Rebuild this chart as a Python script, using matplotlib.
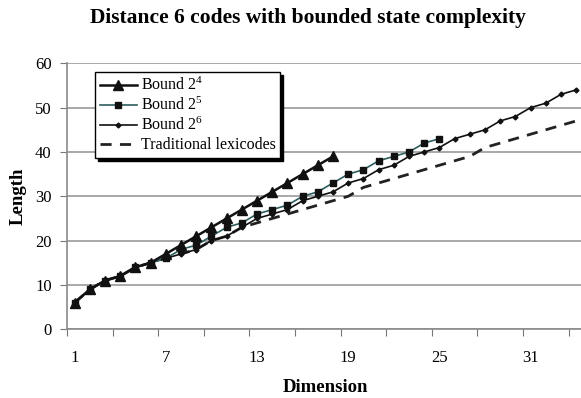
import matplotlib
matplotlib.use("Agg")
import matplotlib.pyplot as plt
import numpy as np

plt.rcParams['font.family'] = ['Liberation Serif', 'DejaVu Serif']
plt.rcParams['mathtext.fontset'] = 'custom'
plt.rcParams['mathtext.rm'] = 'Liberation Serif'
plt.rcParams['mathtext.it'] = 'Liberation Serif:italic'

# data
bound4 = [6, 9, 11, 12, 14, 15, 17, 19, 21, 23, 25, 27, 29, 31, 33, 35, 37, 39]
bound5 = [6, 9, 11, 12, 14, 15, 16, 18, 19, 21, 23, 24, 26, 27, 28, 30, 31,
          33, 35, 36, 38, 39, 40, 42, 43]
bound6 = [6, 9, 11, 12, 14, 15, 16, 17, 18, 20, 21, 23, 25, 26, 27, 29, 30,
          31, 33, 34, 36, 37, 39, 40, 41, 43, 44, 45, 47, 48, 50, 51, 53, 54]
lexi = [6, 9, 11, 12, 14, 15, 16, 17, 18, 20, 21, 23, 24, 25, 26, 27, 28,
        29, 30, 32, 33, 34, 35, 36, 37, 38, 39, 41, 42, 43, 44, 45, 46, 47]
xlabels = ['1', '7', '13', '19', '25', '31']

W, H = 581, 398
fig = plt.figure(figsize=(W / 100, H / 100), dpi=100)
left, right, top, bottom = 67, 583.8, 63.3, 329.3
ax = fig.add_axes([left / W, 1 - bottom / H, (right - left) / W, (bottom - top) / H])

ax.plot(np.arange(1, len(lexi) + 1), lexi, color='#222222', lw=2.0,
        dashes=(4, 3), label='Traditional lexicodes', zorder=2)
ax.plot(np.arange(1, len(bound6) + 1), bound6, color='#111111', lw=1.2,
        marker='D', ms=2.5, label='Bound $2^6$', zorder=3)
ax.plot(np.arange(1, len(bound5) + 1), bound5, color='#2e5d5d', lw=1.2,
        marker='s', ms=5, mfc='#111111', mec='#111111', label='Bound $2^5$', zorder=4)
ax.plot(np.arange(1, len(bound4) + 1), bound4, color='#111111', lw=1.8,
        marker='^', ms=7.5, label='Bound $2^4$', zorder=5)

ax.set_xlim(0.5, 34.5)
ax.set_ylim(0, 60)
ax.set_yticks(range(0, 61, 10))
ax.yaxis.grid(True, color='#9a9a9a', lw=1.2)
ax.set_axisbelow(True)

ax.set_xticks(np.arange(0.5, 34, 3))
ax.set_xticklabels([])
ax.set_xticks([int(s) for s in xlabels], minor=True)
ax.set_xticklabels(xlabels, minor=True)
ax.tick_params(axis='x', which='major', length=5, color='#777777', direction='out')
ax.tick_params(axis='x', which='minor', length=0, pad=15, labelsize=12)
ax.tick_params(axis='y', length=5, color='#777777', labelsize=12, pad=6)

for s in ['top', 'right']:
    ax.spines[s].set_visible(False)
for s in ['left', 'bottom']:
    ax.spines[s].set_color('#8a8a8a')
    ax.spines[s].set_linewidth(1.2)

ax.set_xlabel('Dimension', fontsize=13.5, fontweight='bold', labelpad=9)
ax.set_ylabel('Length', fontsize=13.5, fontweight='bold', labelpad=6)
fig.text(308 / W, 1 - 18 / H, 'Distance 6 codes with bounded state complexity',
         ha='center', va='center', fontsize=15.5, fontweight='bold')

handles, labels = ax.get_legend_handles_labels()
order = [3, 2, 1, 0]
leg = ax.legend([handles[i] for i in order], [labels[i] for i in order],
                loc='upper left', bbox_to_anchor=((95 - left) / (right - left), 1 - (72 - top) / (bottom - top)),
                fontsize=11.5, frameon=True, fancybox=False, handlelength=2.3,
                handletextpad=0.25, labelspacing=0.18, borderpad=0.3,
                borderaxespad=0, shadow={'color': 'black', 'alpha': 1.0})
leg.get_frame().set_edgecolor('black')
leg.get_frame().set_linewidth(1.0)

fig.savefig('out.png', dpi=100)
